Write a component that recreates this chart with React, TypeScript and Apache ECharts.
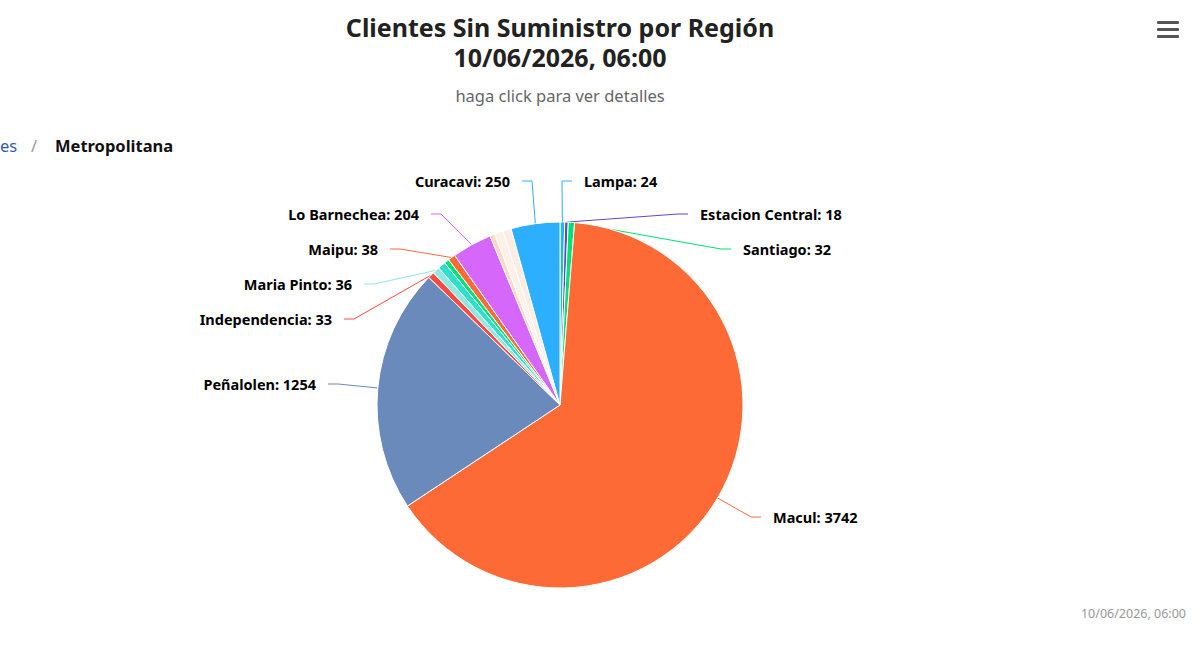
import React, { useEffect, useRef } from "react";
import * as echarts from "echarts";

const comunas = [
  "Lampa", "Estacion Central", "Santiago", "Macul", "Peñalolen", "Independencia",
  "Maria Pinto", "Otra 1", "Otra 2", "Maipu", "Lo Barnechea", "Otra 3", "Otra 4", "Otra 5", "Curacavi",
];
const clientes = [24, 18, 32, 3742, 1254, 33, 36, 40, 25, 38, 204, 25, 45, 43, 250];
const colores = [
  "#2caffe", "#544fc5", "#00e272", "#fe6a35", "#6b8abc", "#fa4b42",
  "#91e8e1", "#2ee0ca", "#00e272", "#fe6a35", "#d568fb", "#f9d8c4", "#fdf1ea", "#fbece4", "#2caffe",
];
const conEtiqueta = [true, true, true, true, true, true, true, false, false, true, true, false, false, false, true];

const titulo = "Clientes Sin Suministro por Región";
const fecha = "10/06/2026, 06:00";
const subtitulo = "haga click para ver detalles";
const migaAnterior = "es";
const migaActual = "Metropolitana";

// label anchor layout (x = text edge nearest the pie, y = text middle)
const labelPos: Record<string, { x: number; y: number; side: "left" | "right" }> = {
  "Curacavi": { x: 510, y: 181, side: "left" },
  "Lo Barnechea": { x: 419, y: 214, side: "left" },
  "Maipu": { x: 378, y: 249, side: "left" },
  "Maria Pinto": { x: 352, y: 284, side: "left" },
  "Independencia": { x: 332, y: 319, side: "left" },
  "Peñalolen": { x: 316, y: 384, side: "left" },
  "Lampa": { x: 584, y: 181, side: "right" },
  "Estacion Central": { x: 700, y: 214, side: "right" },
  "Santiago": { x: 743, y: 249, side: "right" },
  "Macul": { x: 773, y: 517, side: "right" },
};

const FONT = "'Noto Sans', 'Open Sans', sans-serif";

export default function App() {
  const ref = useRef<HTMLDivElement>(null);
  useEffect(() => {
    document.body.style.margin = "0";
    const chart = echarts.init(ref.current!, null, { renderer: "svg" });
    const data = comunas.map((n, i) => ({
      name: n,
      value: clientes[i],
      itemStyle: { color: colores[i] },
      label: { show: conEtiqueta[i] },
      labelLine: { show: conEtiqueta[i] },
    }));
    chart.setOption({
      animation: false,
      backgroundColor: "#fff",
      textStyle: { fontFamily: FONT },
      title: [
        {
          text: titulo,
          left: 560,
          top: 13,
          padding: 0,
          textAlign: "center",
          textStyle: { fontSize: 25, fontWeight: "bold", color: "#222", lineHeight: 28, fontFamily: FONT },
        },
        {
          text: fecha,
          left: 560,
          top: 43,
          padding: 0,
          textAlign: "center",
          textStyle: { fontSize: 25, fontWeight: "bold", color: "#222", lineHeight: 28, fontFamily: FONT },
        },
        {
          text: subtitulo,
          left: 560,
          top: 87,
          padding: 0,
          textAlign: "center",
          textStyle: { fontSize: 16.5, fontWeight: "normal", color: "#666", fontFamily: FONT },
        },
        {
          text: fecha,
          right: 9,
          top: 602,
          textStyle: { fontSize: 12.5, fontWeight: "normal", color: "#999", fontFamily: FONT },
        },
      ],
      graphic: [
        { type: "text", left: 0, top: 137, style: { text: migaAnterior, fontSize: 16.5, fill: "#335cad", fontFamily: FONT } },
        { type: "text", left: 31, top: 137, style: { text: "/", fontSize: 16.5, fill: "#999", fontFamily: FONT } },
        { type: "text", left: 55, top: 137, style: { text: migaActual, fontSize: 16.5, fontWeight: "bold", fill: "#111", fontFamily: FONT } },
        { type: "rect", shape: { x: 1157, y: 21, width: 22, height: 3, r: 1 }, style: { fill: "#555" } },
        { type: "rect", shape: { x: 1157, y: 28, width: 22, height: 3, r: 1 }, style: { fill: "#555" } },
        { type: "rect", shape: { x: 1157, y: 35, width: 22, height: 3, r: 1 }, style: { fill: "#555" } },
      ],
      series: [
        {
          type: "pie",
          center: [560, 405],
          radius: 183,
          startAngle: 90,
          clockwise: true,
          avoidLabelOverlap: false,
          minShowLabelAngle: 0,
          data,
          itemStyle: { borderColor: "#fff", borderWidth: 1 },
          label: {
            show: true,
            formatter: "{b}: {c}",
            fontSize: 14.5,
            fontWeight: "bold",
            color: "#000",
            fontFamily: FONT,
          },
          labelLine: { show: true, length: 25, length2: 30, lineStyle: { width: 1 } },
          labelLayout: (params: any) => {
            const name = comunas[params.dataIndex];
            const p = labelPos[name];
            if (!p || !params.labelLinePoints) return {};
            const start = params.labelLinePoints[0];
            const dir = p.side === "left" ? 1 : -1;
            const gap = 12;
            const crook = 10;
            return {
              x: p.x,
              y: p.y,
              align: p.side === "left" ? "right" : "left",
              verticalAlign: "middle",
              labelLinePoints: [
                [start[0], start[1]],
                [p.x + dir * (gap + crook), p.y],
                [p.x + dir * gap, p.y],
              ],
            };
          },
        },
      ],
    });
    return () => chart.dispose();
  }, []);
  return <div ref={ref} style={{ width: 1200, height: 670 }} />;
}
